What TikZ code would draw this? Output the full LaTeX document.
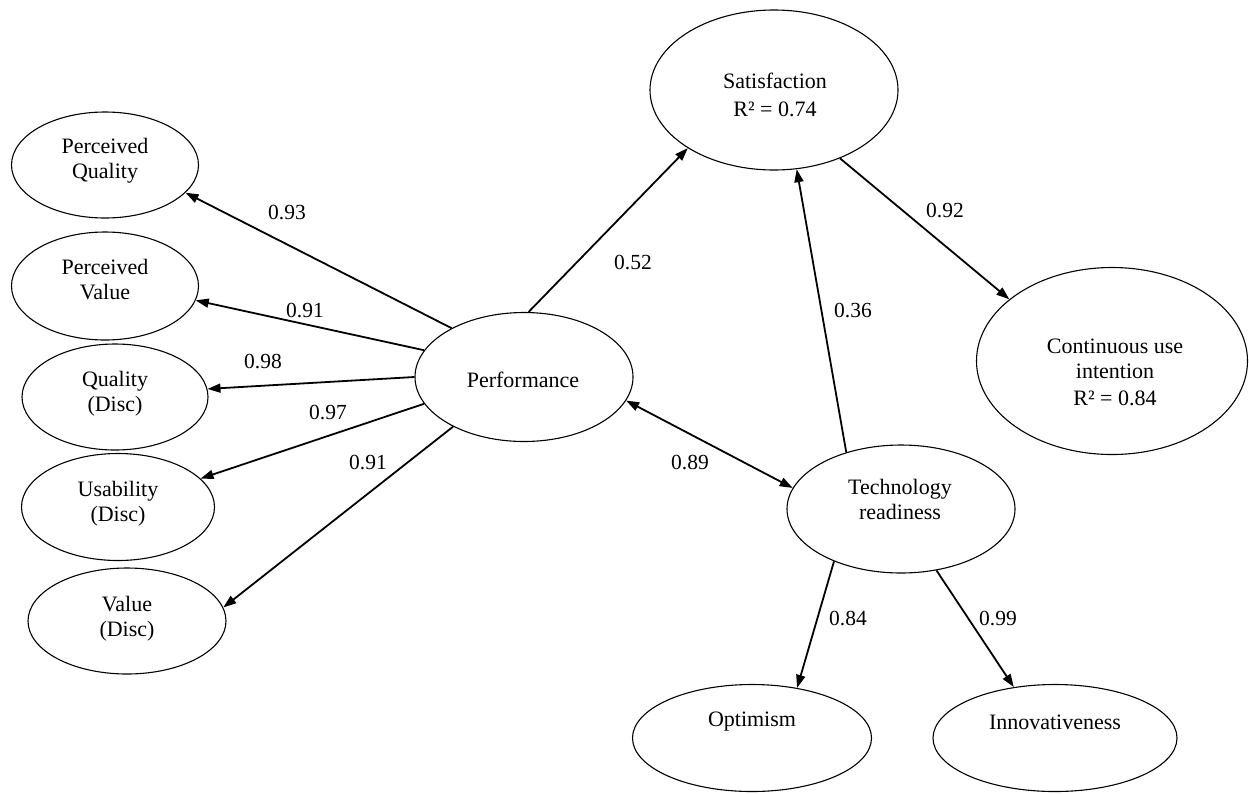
\documentclass[tikz,border=0pt]{standalone}
\usepackage{fontspec}
\setmainfont{Liberation Serif}
\usetikzlibrary{arrows.meta,shapes.geometric}
\begin{document}
\begin{tikzpicture}[x=1pt,y=-1pt,
  lat/.style={draw, line width=1.1pt, ellipse, inner sep=0pt},
  txt/.style={font=\fontsize{22}{25}\selectfont, align=center, inner sep=0pt},
  coef/.style={font=\fontsize{21.5}{25}\selectfont, inner sep=0pt},
  link/.style={line width=1.8pt, -{Triangle[length=13pt,width=9pt]}},
  dlink/.style={line width=1.8pt, {Triangle[length=13pt,width=9pt]}-{Triangle[length=13pt,width=9pt]}},
]
\useasboundingbox (0,0) rectangle (1249,793);
% latent variables
\node[lat, minimum width=187pt, minimum height=106pt] (pq) at (105,165) {};
\node[lat, minimum width=187pt, minimum height=108pt] (pv) at (105,286) {};
\node[lat, minimum width=186pt, minimum height=106pt] (qd) at (115,397) {};
\node[lat, minimum width=193pt, minimum height=107pt] (ud) at (118,507) {};
\node[lat, minimum width=198pt, minimum height=106pt] (vd) at (127,621) {};
\node[lat, minimum width=218pt, minimum height=129pt] (perf) at (524,377) {};
\node[lat, minimum width=248pt, minimum height=160pt] (sat) at (774,90) {};
\node[lat, minimum width=271pt, minimum height=187pt] (cont) at (1112,361) {};
\node[lat, minimum width=228pt, minimum height=128pt] (tech) at (901,509) {};
\node[lat, minimum width=239pt, minimum height=107pt] (opt) at (752,738) {};
\node[lat, minimum width=244pt, minimum height=107pt] (inn) at (1055,738) {};
% texts
\node[txt] (pqt) at (105,161) {Perceived\\Quality};
\node[txt] (pvt) at (105,280) {Perceived\\Value};
\node[txt] (qdt) at (115,394) {Quality\\(Disc)};
\node[txt] (udt) at (118,503.5) {Usability\\(Disc)};
\node[txt] (vdt) at (127,618.5) {Value\\(Disc)};
\node[txt] (perft) at (523,380) {Performance};
\node[txt] (satt) at (775,95) {Satisfaction\\[3pt]R² = 0.74};
\node[txt] (contt) at (1115,372) {Continuous use\\intention\\[2pt]R² = 0.84};
\node[txt] (techt) at (900,499) {Technology\\readiness};
\node[txt] (optt) at (752,722) {Optimism};
\node[txt] (innt) at (1055,722) {Innovativeness};
% paths
\draw[link] (perf.146.5) -- (pq.-19.3);
\draw[link] (perf.165.2) -- (pv.-9.4);
\draw[link] (perf.180) -- (qd.5.5);
\draw[link] (perf.195.9) -- (ud.19.5);
\draw[link] (perf.215.9) -- (vd.8.7);
\draw[link] (perf.86.3) -- (sat.214.6);
\draw[link] (tech.134.5) -- (sat.286.7);
\draw[link] (sat.-46.3) -- (cont.149.5);
\draw[dlink] (perf.-13.3) -- (tech.169.3);
\draw[link] (tech.218.8) -- (opt.48);
\draw[link] (tech.-60) -- (inn.129.5);
% coefficients
\node[coef] (c1) at (287,212) {0.93};
\node[coef] (c2) at (305,310) {0.91};
\node[coef] (c3) at (263,361) {0.98};
\node[coef] (c4) at (328,412) {0.97};
\node[coef] (c5) at (368,462) {0.91};
\node[coef] (c6) at (633,262) {0.52};
\node[coef] (c7) at (853,310) {0.36};
\node[coef] (c8) at (945,210) {0.92};
\node[coef] (c9) at (690,462) {0.89};
\node[coef] (c10) at (848,618) {0.84};
\node[coef] (c11) at (998,618) {0.99};
\end{tikzpicture}
\end{document}
